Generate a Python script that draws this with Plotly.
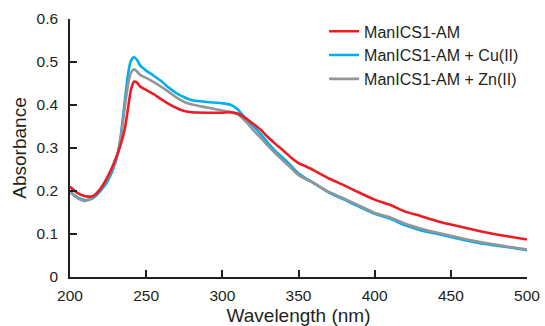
import plotly.graph_objects as go

# UV-vis absorption spectra of ManICS1-AM with and without metal ions
wavelength = [200, 205, 210, 215, 220, 225, 230, 233, 236, 238, 240, 242, 244, 246,
              250, 255, 260, 265, 270, 275, 280, 290, 300, 305, 310, 315, 320, 325,
              330, 335, 340, 345, 350, 355, 360, 370, 380, 390, 400, 410, 420, 430,
              440, 450, 460, 470, 480, 490, 500]

abs_free = [0.210, 0.195, 0.188, 0.188, 0.205, 0.235, 0.275, 0.305, 0.345, 0.390, 0.435,
            0.454, 0.452, 0.443, 0.435, 0.425, 0.413, 0.402, 0.393, 0.386, 0.383, 0.382,
            0.382, 0.383, 0.380, 0.370, 0.357, 0.343, 0.325, 0.309, 0.294, 0.278, 0.265,
            0.257, 0.248, 0.229, 0.213, 0.196, 0.180, 0.168, 0.152, 0.142, 0.131, 0.122,
            0.114, 0.106, 0.099, 0.093, 0.087]

abs_cu = [0.198, 0.185, 0.179, 0.183, 0.200, 0.225, 0.268, 0.320, 0.410, 0.470, 0.503,
          0.511, 0.505, 0.492, 0.480, 0.468, 0.455, 0.440, 0.427, 0.418, 0.411, 0.407,
          0.404, 0.401, 0.390, 0.370, 0.352, 0.333, 0.312, 0.292, 0.276, 0.259, 0.241,
          0.229, 0.219, 0.196, 0.180, 0.163, 0.147, 0.136, 0.120, 0.109, 0.101, 0.093,
          0.085, 0.078, 0.073, 0.068, 0.062]

abs_zn = [0.198, 0.183, 0.177, 0.185, 0.205, 0.232, 0.270, 0.315, 0.395, 0.445, 0.475,
          0.483, 0.478, 0.470, 0.463, 0.453, 0.442, 0.430, 0.417, 0.407, 0.401, 0.394,
          0.387, 0.384, 0.378, 0.363, 0.343, 0.324, 0.305, 0.287, 0.270, 0.254, 0.237,
          0.227, 0.218, 0.198, 0.182, 0.166, 0.149, 0.139, 0.124, 0.113, 0.104, 0.096,
          0.088, 0.081, 0.075, 0.069, 0.064]

series = [
    ("ManICS1-AM + Cu(II)", abs_cu, "#00AEEF", 2),
    ("ManICS1-AM + Zn(II)", abs_zn, "#939598", 3),
    ("ManICS1-AM", abs_free, "#ED1C24", 1),
]

fig = go.Figure()
for name, values, color, rank in series:
    fig.add_trace(go.Scatter(
        x=wavelength, y=values, mode="lines", name=name, legendrank=rank,
        line=dict(color=color, width=2.6, shape="spline", smoothing=0.6),
    ))

axis_color = "#231F20"
family = "Liberation Sans, Arial, sans-serif"
font = dict(family=family, size=15.5, color="#231F20")

fig.update_layout(
    width=545, height=326,
    margin=dict(l=70, r=18, t=19, b=49),
    paper_bgcolor="white", plot_bgcolor="white",
    font=font,
    showlegend=True,
    legend=dict(x=0.556, y=1.018, xanchor="left", yanchor="top",
                bgcolor="rgba(0,0,0,0)", tracegroupgap=0,
                font=dict(family=family, size=16, color="#231F20")),
    xaxis=dict(
        range=[200, 500], tickvals=[200, 250, 300, 350, 400, 450, 500],
        showline=True, linecolor=axis_color, linewidth=1.5,
        ticks="inside", ticklen=7, tickwidth=1.5, tickcolor=axis_color,
        ticklabelstandoff=4, automargin=False,
        showgrid=False, zeroline=False,
        title=dict(text="Wavelength (nm)", standoff=5),
    ),
    yaxis=dict(
        range=[0, 0.6], tickvals=[0, 0.1, 0.2, 0.3, 0.4, 0.5, 0.6],
        ticktext=["0", "0.1", "0.2", "0.3", "0.4", "0.5", "0.6"],
        showline=True, linecolor=axis_color, linewidth=1.5,
        ticks="inside", ticklen=7, tickwidth=1.5, tickcolor=axis_color,
        ticklabelstandoff=7, automargin=False,
        showgrid=False, zeroline=False,
        title=dict(text="Absorbance", standoff=5),
    ),
)

fig.write_html("out.html")
